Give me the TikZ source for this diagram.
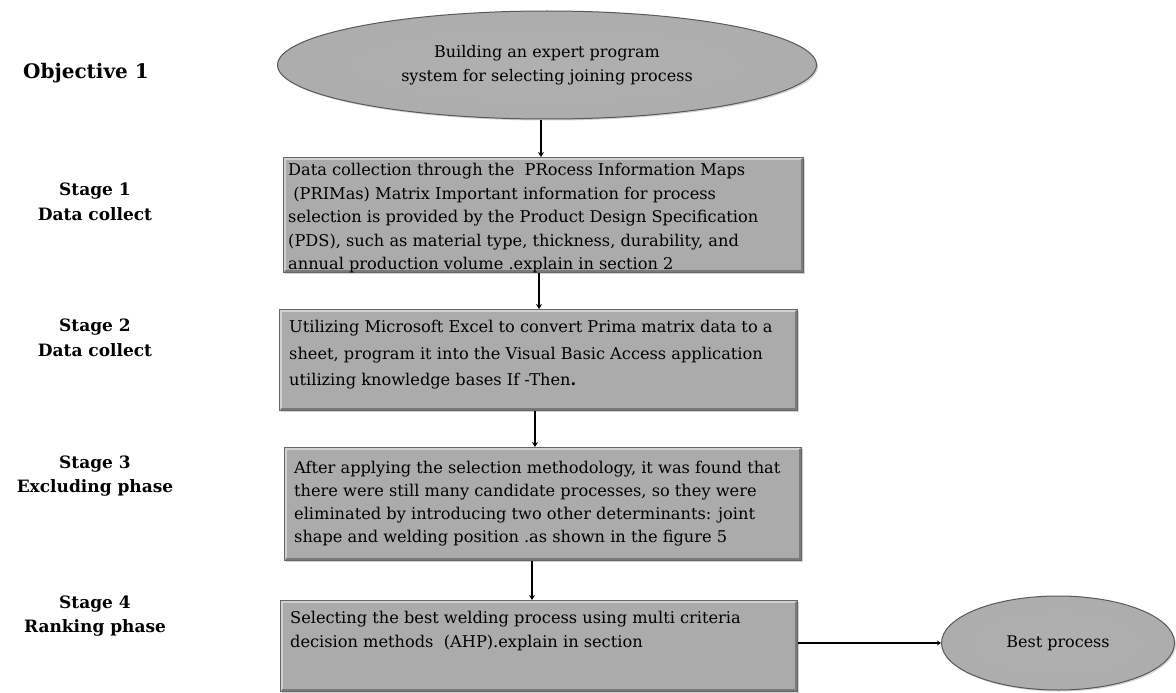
\documentclass[tikz,border=0pt]{standalone}
\usepackage{fontspec}
\setmainfont{DejaVu Serif}
\usetikzlibrary{arrows.meta,shapes.geometric,shadows}
\pgfdeclareradialshading{rimshade}{\pgfpoint{0bp}{0bp}}{color(0bp)=(black!31); color(38bp)=(black!33); color(47bp)=(black!45); color(50bp)=(black!58)}
\begin{document}
\begin{tikzpicture}[x=1pt,y=-1pt,
  boxshape/.style={draw=black!60,line width=1pt,fill=black!33,inner sep=0pt,anchor=north west,
    drop shadow={shadow xshift=1.5pt,shadow yshift=-1.5pt,opacity=0.35},
    path picture={
      \draw[black!18,line width=2.5pt]
        ([shift={(1.5,-1.5)}]path picture bounding box.south west) --
        ([shift={(1.5,1.5)}]path picture bounding box.north west) --
        ([shift={(-1.5,1.5)}]path picture bounding box.north east);
      \draw[black!52,line width=2.5pt]
        ([shift={(-1.5,1.5)}]path picture bounding box.north east) --
        ([shift={(-1.5,-1.5)}]path picture bounding box.south east) --
        ([shift={(1.5,-1.5)}]path picture bounding box.south west);
    }},
  ovalshape/.style={ellipse,draw=black!65,line width=1pt,shading=rimshade,inner sep=0pt,
    drop shadow={shadow xshift=1.5pt,shadow yshift=-1.5pt,opacity=0.35},
    font=\fontsize{16}{24}\selectfont,align=center},
  boxtext/.style={anchor=north west,inner sep=0pt,align=left,font=\fontsize{16.2}{23.5}\selectfont},
  stagelabel/.style={align=center,font=\bfseries\fontsize{17}{24.5}\selectfont},
  conn/.style={line width=2.5pt,-{Stealth[length=5pt,width=6pt]}},
  hconn/.style={line width=2pt,-{Stealth[length=4pt,width=5pt]}}]
\useasboundingbox (0,0) rectangle (1176,693);

% labels
\node[stagelabel,font=\bfseries\fontsize{20}{24}\selectfont] (lobj) at (86,73) {Objective 1};
\node[stagelabel] (l1) at (95,202) {Stage 1\\Data collect};
\node[stagelabel] (l2) at (95,338) {Stage 2\\Data collect};
\node[stagelabel] (l3) at (95,476) {Stage 3\\Excluding phase};
\node[stagelabel] (l4) at (95,616) {Stage 4\\Ranking phase};

% objective ellipse
\node[ovalshape,minimum width=539,minimum height=108] (obj) at (547,65)
  {Building an expert program\\system for selecting joining process};

% boxes
\node[boxshape,minimum width=520,minimum height=115] (b1) at (283,157) {};
\node[boxshape,minimum width=518,minimum height=101] (b2) at (279,309) {};
\node[boxshape,minimum width=517,minimum height=113] (b3) at (284,447) {};
\node[boxshape,minimum width=517,minimum height=91] (b4) at (280,600) {};

\node[boxtext] (t1) at ([xshift=5pt,yshift=-6pt]b1.north west)
  {Data collection through the\ \ PRocess Information Maps\\
   \ (PRIMas) Matrix Important information for process\\
   selection is provided by the Product Design Specification\\
   (PDS), such as material type, thickness, durability, and\\
   annual production volume .explain in section 2};
\node[boxtext,font=\fontsize{16.2}{26.5}\selectfont] (t2) at ([xshift=10pt,yshift=-11pt]b2.north west)
  {Utilizing Microsoft Excel to convert Prima matrix data to a\\
   sheet, program it into the Visual Basic Access application\\
   utilizing knowledge bases If -Then\textbf{.}};
\node[boxtext,font=\fontsize{16.2}{23}\selectfont] (t3) at ([xshift=10pt,yshift=-14pt]b3.north west)
  {After applying the selection methodology, it was found that\\
   there were still many candidate processes, so they were\\
   eliminated by introducing two other determinants: joint\\
   shape and welding position .as shown in the figure 5};
\node[boxtext] (t4) at ([xshift=10pt,yshift=-11pt]b4.north west)
  {Selecting the best welding process using multi criteria\\
   decision methods\ \ (AHP).explain in section};

% best process
\node[ovalshape,minimum width=233,minimum height=94] (best) at (1058,643) {Best process};

% connectors
\coordinate (c0) at (541,0);
\draw[conn] (obj.south -| c0) -- (b1.north -| c0);
\coordinate (c1) at (539,0);
\draw[conn] (b1.south -| c1) -- (b2.north -| c1);
\coordinate (c2) at (535,0);
\draw[conn] (b2.south -| c2) -- (b3.north -| c2);
\coordinate (c3) at (532,0);
\draw[conn] (b3.south -| c3) -- (b4.north -| c3);
\draw[hconn] (b4.east |- best.west) -- (best.west);
\end{tikzpicture}
\end{document}
